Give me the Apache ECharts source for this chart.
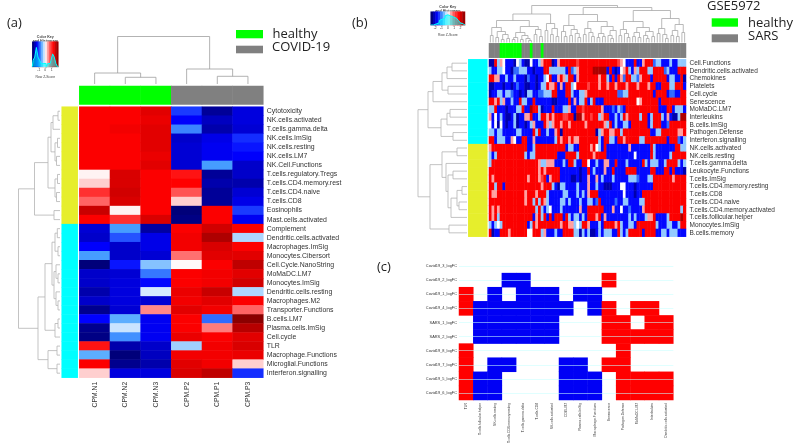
<!DOCTYPE html>
<html><head><meta charset="utf-8">
<style>html,body{margin:0;padding:0;background:#fff}#c{width:800px;height:447px;filter:blur(0.35px)}</style>
<script src="https://cdn.jsdelivr.net/npm/echarts@6/dist/echarts.min.js"></script></head>
<body><div id="c"></div>
<script>
// ---------- Panel (a) ----------
const aCols=['CPM.N1','CPM.N2','CPM.N3','CPM.P2','CPM.P1','CPM.P3'];
const aColGroups=[0,0,0,1,1,1];
const aRows=['Cytotoxicity','NK.cells.activated','T.cells.gamma.delta','NK.cells.ImSig','NK.cells.resting','NK.cells.LM7','NK.Cell.Functions','T.cells.regulatory.Tregs','T.cells.CD4.memory.rest','T.cells.CD4.naive','T.cells.CD8','Eosinophils','Mast.cells.activated','Complement','Dendritic.cells.activated','Macrophages.ImSig','Monocytes.Cibersort','Cell.Cycle.NanoString','MoMaDC.LM7','Monocytes.ImSig','Dendritic.cells.resting','Macrophages.M2','Transporter.Functions','B.cells.LM7','Plasma.cells.ImSig','Cell.cycle','TLR','Macrophage.Functions','Microglial.Functions','Interferon.signalling'];
const aRowGroups=[2,2,2,2,2,2,2,2,2,2,2,2,2,3,3,3,3,3,3,3,3,3,3,3,3,3,3,3,3,3];
const aValues=[
[1.35,1.35,1.5,-1.1,-1.85,-1.5],[1.35,1.35,1.45,-1.35,-1.65,-1.5],[1.35,1.4,1.5,-0.8,-1.75,-1.55],[1.35,1.35,1.5,-1.6,-1.45,-1.15],[1.35,1.35,1.5,-1.55,-1.4,-1.25],[1.35,1.35,1.45,-1.55,-1.4,-1.35],[1.35,1.35,1.5,-1.55,-0.7,-1.6],
[0.05,1.55,1.35,1.2,-1.85,-1.6],[0.2,1.55,1.35,1.33,-1.75,-1.75],[1.0,1.6,1.35,0.75,-1.85,-1.55],[0.65,1.55,1.35,0.2,-1.85,-1.45],[1.65,0.05,1.35,-2,1.35,-1.1],[1.35,1.0,1.55,-1.95,1.35,-1.4],
[-1.55,-0.7,-1.8,1.35,1.6,1.35],[-1.6,-1,-1.45,1.4,1.8,-0.3],[-1.35,-1.6,-1.45,1.4,1.55,1.35],[-0.7,-1.6,-1.55,0.6,1.5,1.5],[-2,-1.25,-0.45,0.02,1.35,1.7],[-1.6,-1.55,-0.85,1.35,1.4,1.5],[-1.6,-1.5,-1.3,1.35,1.4,1.6],[-1.75,-1.5,-0.15,1.45,1.65,-0.3],[-1.6,-1.5,-1.55,1.4,1.5,1.35],[-1.9,-1.55,0.5,1.5,1.4,0.65],
[-1.33,-0.6,-1.4,1.35,-0.9,2],[-1.9,-0.2,-1.4,1.35,0.55,1.75],[-1.95,-0.75,-1.4,1.45,1.35,1.5],[1.2,-1.75,-1.6,-0.35,1.4,1.55],[-0.6,-2,-1.65,1.4,1.4,1.45],[1.35,-1.9,-1.75,1.5,1.4,0.2],[0.2,-1.5,-1.5,1.55,1.7,-1.15]];
// dendrograms: [height, left, right], 0 = next leaf in display order
const aRowTree=[41.5,[25.5,[12,[9,[7,[2,0,0],0],[5,[2.5,0,0],[3.5,0,0]]],[5,[2.5,0,0],[3.5,0,0]]],[6,0,0]],[22,[15,[8,[5,[2.7,0,0],[2,0,0]],[6,[4,0,[2,0,0]],[4,0,[2,0,0]]]],[5,[2,0,0],0]],[12,[3,0,0],[3,0,0]]]];
const aColTree=[47.5,[11,0,[6.7,0,0]],[15,0,[7.7,0,0]]];
const aKeyBins=[-2,-1.75,-1.5,-1.25,-1,-0.75,-0.5,-0.25,0,0.25,0.5,0.75,1,1.25,1.5,1.75,2];
const aKeyCounts=[0,2,3,6,3,2,1,1,1,0,1,1,2,4,3,1,0];
const aKeyTicks=[-1,0,1];
// ---------- Panel (b) ----------
const bRows=['Cell.Functions','Dendritic.cells.activated','Chemokines','Platelets','Cell.cycle','Senescence','MoMaDC.LM7','Interleukins','B.cells.ImSig','Pathogen.Defense','Interferon.signalling','NK.cells.activated','NK.cells.resting','T.cells.gamma.delta','Leukocyte.Functions','T.cells.ImSig','T.cells.CD4.memory.resting','T.cells.CD8','T.cells.CD4.naive','T.cells.CD4.memory.activated','T.cells.follicular.helper','Monocytes.ImSig','B.cells.memory'];
const bRowGroups=[3,3,3,3,3,3,3,3,3,3,3,2,2,2,2,2,2,2,2,2,2,2,2];
const bHealthyCols=[4,5,6,7,8,9,10,11,15,19];
// colour level per column: 0 navy, 1 blue, 2 azure, 3 pale blue, 4 white, 5 pink, 6 salmon, 7 red, 8 dark red
const bLevels=[
'007354 111043 100411 357770 157777 776777 777777 777776 541117 115777 233111 311333',
'311334 110223 331101 117733 333317 235777 778888 817101 457315 377733 777723 111777',
'775511 311311 102110 113471 157537 715777 777757 731717 527733 257771 777771 331170',
'001110 110121 100110 133755 715177 347777 677757 757757 775777 577757 711777 337771',
'011331 332110 103311 223337 711177 311335 777777 777772 233777 777777 177771 221177',
'775735 113117 331171 111110 011117 151337 137111 777777 777777 457777 771777 777777',
'337111 011133 711877 301117 111335 117767 777775 111213 217777 777777 771117 713331',
'514131 001301 155711 377575 777667 708857 767735 771131 375777 737713 777315 100388',
'414041 011301 101351 117535 775775 777775 777777 537131 133177 777713 777112 777777',
'331331 111133 111173 711311 570777 777777 777035 775577 377777 777771 133777 777557',
'771333 115411 771151 111111 375775 755777 777731 773317 757777 733777 777771 777213',
'577777 777777 771137 777777 777713 311777 757431 711111 111511 111117 311111 117733',
'313777 777777 731337 777777 711177 773777 775777 711111 111114 111117 311111 377777',
'377777 777777 777777 533555 111317 731177 411311 551171 113111 117313 331137 777313',
'777777 777777 777777 575777 771111 111011 713111 511711 117777 111117 711177 171110',
'757777 777777 775777 567157 771111 001011 511513 111311 111333 211133 777777 757777',
'773771 777777 777777 757773 103311 113111 511311 000111 441110 111111 777777 777777',
'755777 777777 757775 777311 111331 113131 577711 111111 141110 117777 777777 777777',
'777777 777777 757737 375311 113313 111311 331271 111121 133111 133777 777777 777777',
'757577 777777 777773 731341 113111 111511 777777 111511 411211 115777 777777 777737',
'757377 777777 777715 737171 777173 133131 777571 511111 111313 111355 711113 777787',
'313437 777777 771375 777777 775775 534377 511131 777757 311331 777777 731113 311377',
'701177 757777 774477 735111 311777 733031 300131 333117 313777 771777 711331 333111'];
const levelZ=[-1.75,-1.3,-0.9,-0.4,0,0.4,0.9,1.35,1.8];
const bRowTree=[49,[39,[34,[25,[20,[15,0,0],0],[19,0,0]],0],[26,[20,[17,0,0],0],[14,0,0]]],[37,[25,[10,0,0],[21,0,[19,[14,0,0],[16,[10,[5,0,0],[8,0,0]],0]]]],[18,0,0]]];
const bColTree=[37,[28.5,[22,[15,[7,0,0],[11,[5,0,0],[8,[3,0,0],[4,0,0]]]],[16,[10,[5,[3,0,0],0],[7,[3,0,0],[4,0,[2,0,0]]]],[13,[8,0,0],[6,0,0]]]],[19,[12,0,0],[14,[8,0,0],[6,0,0]]]],[35,[28,[17,[11,0,[6,0,0]],[13,[7,0,0],[9,0,[5,0,0]]]],[21,[14,[8,0,0],[10,0,[6,0,0]]],[16,[9,[5,0,0],[6,0,0]],[12,[7,0,[4,0,0]],0]]]],[32,[21,[13,[7,0,0],[9,0,[5,0,0]]],[15,[10,[6,0,0],[5,0,0]],[11,[7,0,[4,0,0]],[6,0,0]]]],[24,[14,[9,0,0],[8,0,[4,0,0]]],[18,[12,[7,0,0],[6,0,0]],[10,0,0]]]]]];
const bKeyBins=[-2.7,-2.4,-2.1,-1.8,-1.5,-1.2,-0.9,-0.6,-0.3,0,0.3,0.6,0.9,1.2,1.5,1.8,2.1,2.4,2.7];
const bKeyCounts=[0,0,1,1,2,4,5,6,8,9,8,7,7,6,5,4,2,1,0];
const bKeyTicks=[-2,-1,0,1,2];
// ---------- Panel (c) ----------
const cRows=['Covid19_3_logFC','Covid19_2_logFC','Covid19_1_logFC','Covid19_4_logFC','SARS_1_logFC','SARS_2_logFC','Covid19_8_logFC','Covid19_7_logFC','Covid19_5_logFC','Covid19_6_logFC'];
const cCols=['TLR','T.cells.follicular.helper','NK.cells.resting','T.cells.CD4.memory.resting','T.cells.gamma.delta','T.cells.CD8','NK.cells.activated','CD8.LM7','Plasma.cells.ImSig','Macrophage.Functions','Senescence','Pathogen.Defense','MoMaDC.LM7','Interleukins','Dendritic.cells.activated'];
const cValues=[
[0,0,0,0,0,0,0,0,0,0,0,0,0,0,0],
[0,0,0,-1,-1,0,0,0,0,0,1,0,0,0,0],
[1,0,-1,0,-1,-1,-1,0,-1,-1,0,0,0,0,0],
[1,-1,-1,-1,-1,-1,-1,-1,0,-1,1,0,1,1,0],
[0,-1,-1,-1,-1,-1,-1,0,0,0,1,1,0,1,1],
[0,-1,-1,-1,-1,-1,-1,0,0,0,1,1,1,1,1],
[1,0,0,0,0,0,0,0,0,0,0,1,0,0,0],
[1,0,-1,-1,0,0,0,-1,-1,0,1,1,0,0,0],
[1,-1,-1,0,0,0,0,-1,-1,-1,0,1,1,1,1],
[1,-1,-1,0,0,0,0,-1,-1,-1,0,1,1,1,1]];
// ---------- Colours ----------
const zColours=['#00007a','#0000ff','#4aa5ff','#ffffff','#ff6060','#ff0000','#8b0000'];
const keyStrip=[-2,-1.7,-1.4,-1.1,-0.8,-0.5,-0.2,0.1,0.4,0.7,1,1.3,1.6,1.9];

const grids=[],xAxes=[],yAxes=[],series=[],graphic=[];
const hidden=(min,max,inv)=>({type:'value',show:false,min,max,inverse:!!inv});
function addGrid(r,x,y){const g=grids.length;grids.push({left:r[0],top:r[1],width:r[2],height:r[3],containLabel:false});xAxes.push({...x,gridIndex:g});yAxes.push({...y,gridIndex:g});return g;}
function cat(data,extra){return {type:'category',data,axisLine:{show:false},axisTick:{show:false},splitLine:{show:false},...extra};}
function cells(mat){const o=[];mat.forEach((row,y)=>row.forEach((v,x)=>{if(v!==null)o.push([x,y,v]);}));return o;}
const zSeries=[],annSeries=[];
function heat(g,data,list){list.push(series.length);series.push({type:'heatmap',xAxisIndex:g,yAxisIndex:g,data,progressive:0,silent:true,itemStyle:{borderWidth:0}});return series[series.length-1];}
function tree(root,horizontal,g,colour){
  const segs=[];let next=0;
  (function walk(n){ if(!Array.isArray(n))return {p:next++,h:0};
    const a=walk(n[1]),b=walk(n[2]);
    segs.push([a.p,a.h,a.p,n[0]],[a.p,n[0],b.p,n[0]],[b.p,b.h,b.p,n[0]]);
    return {p:(a.p+b.p)/2,h:n[0]};
  })(root);
  series.push({type:'custom',xAxisIndex:g,yAxisIndex:g,silent:true,clip:false,
    encode:horizontal?{x:[1,3],y:[0,2]}:{x:[0,2],y:[1,3]},
    data:segs,
    renderItem(p,api){
      const A=horizontal?[api.value(1),api.value(0)]:[api.value(0),api.value(1)];
      const B=horizontal?[api.value(3),api.value(2)]:[api.value(2),api.value(3)];
      const s=api.coord(A),e=api.coord(B);
      return {type:'line',shape:{x1:s[0],y1:s[1],x2:e[0],y2:e[1]},style:{stroke:colour,lineWidth:0.8,fill:null}};
    }});
}
function txt(text,x,y,font,opts){graphic.push({type:'text',silent:true,style:{text,x,y,font,fill:'#222',textVerticalAlign:'middle',textAlign:'left',...opts}});}
function box(x,y,w,h,fill){graphic.push({type:'rect',silent:true,shape:{x,y,width:w,height:h},style:{fill}});}
function key(r,bins,counts,ticks,ext){
  const g0=addGrid(r,cat(keyStrip.map(String),{show:false}),cat(['k'],{show:false}));
  heat(g0,keyStrip.map((v,i)=>[i,0,v]),zSeries);
  const max=Math.max(...counts)*1.3;
  const ax={type:'value',min:-ext,max:ext,axisLine:{lineStyle:{color:'#666',width:0.4}},axisTick:{length:1.5,lineStyle:{color:'#666',width:0.4},customValues:ticks},splitLine:{show:false},axisLabel:{customValues:ticks,fontSize:3.4,margin:2,color:'#444',fontFamily:'Liberation Sans'}};
  const ay={type:'value',min:0,max,position:'left',axisLine:{lineStyle:{color:'#666',width:0.4}},axisTick:{show:false},splitLine:{show:false},axisLabel:{show:false}};
  const g1=addGrid(r,ax,ay);
  series.push({type:'line',step:'middle',xAxisIndex:g1,yAxisIndex:g1,symbol:'none',silent:true,data:bins.map((b,i)=>[b,counts[i]]),lineStyle:{color:'#00ffff',width:1},areaStyle:{color:'#00ffff',opacity:0.55}});
  const cx=r[0]+r[2]/2;
  txt('Color Key',cx,r[1]-5,'bold 3.6px "Liberation Sans"',{textAlign:'center',fill:'#444'});
  txt('and Histogram',cx,r[1]-1,'bold 3.6px "Liberation Sans"',{textAlign:'center',fill:'#444'});
  txt('Row Z-Score',cx,r[1]+r[3]+10.5,'3.4px "Liberation Sans"',{textAlign:'center',fill:'#444'});
}
const lab=(size,extra)=>({interval:0,fontSize:size,color:'#333',fontFamily:'Liberation Sans',...extra});

// ---- panel a layout
const ax0=79.3,ay0=106.7,aw=184,ah=271;
let g=addGrid([ax0,ay0,aw,ah],cat(aCols,{position:'bottom',axisLabel:lab(6.8,{rotate:90,margin:4})}),cat(aRows,{inverse:true,position:'right',axisLabel:lab(6.9,{margin:3.5})}));
heat(g,cells(aValues),zSeries);
g=addGrid([ax0,86,aw,18.5],cat(aCols,{show:false}),cat(['group'],{show:false}));
heat(g,aColGroups.map((v,i)=>[i,0,v]),annSeries);
g=addGrid([61.7,ay0,16,ah],cat(['side'],{show:false}),cat(aRows,{show:false,inverse:true}));
heat(g,aRowGroups.map((v,i)=>[0,i,v]),annSeries);
g=addGrid([ax0,36.5,aw,47.5],hidden(-0.5,5.5),hidden(0,47.5));tree(aColTree,false,g,'#a0a0a0');
g=addGrid([18,ay0,42,ah],hidden(0,42,true),hidden(-0.5,29.5,true));tree(aRowTree,true,g,'#b4b4b4');
key([32.3,41.7,26,25],aKeyBins,aKeyCounts,aKeyTicks,2);
// ---- panel b layout
const bx0=489,by0=59.3,bw=197,bh=177.4;
const bMat=bLevels.map(s=>s.replace(/ /g,'').split('').map(c=>levelZ[+c]));
const bCols=bMat[0].map((_,i)=>'S'+(i+1));
g=addGrid([bx0,by0,bw,bh],cat(bCols,{show:false}),cat(bRows,{inverse:true,position:'right',axisLabel:lab(6.5,{margin:3.5})}));
heat(g,cells(bMat),zSeries);
g=addGrid([bx0,43.3,bw,14.4],cat(bCols,{show:false}),cat(['group'],{show:false}));
heat(g,bCols.map((_,i)=>[i,0,bHealthyCols.includes(i)?0:1]),annSeries);
g=addGrid([468.3,by0,19,bh],cat(['side'],{show:false}),cat(bRows,{show:false,inverse:true}));
heat(g,bRowGroups.map((v,i)=>[0,i,v]),annSeries);
g=addGrid([bx0,5,bw,37.5],hidden(-0.5,bCols.length-0.5),hidden(0,37.5));tree(bColTree,false,g,'#a8a8a8');
g=addGrid([418,by0,49,bh],hidden(0,49,true),hidden(-0.5,22.5,true));tree(bRowTree,true,g,'#b4b4b4');
key([430.7,11.7,34.3,13.3],bKeyBins,bKeyCounts,bKeyTicks,2.7);
// ---- panel c layout
g=addGrid([459,259,214.3,141],cat(cCols,{position:'bottom',axisLabel:lab(3.3,{rotate:90,margin:3})}),cat(cRows,{inverse:true,position:'left',axisLabel:lab(3.9,{margin:2})}));
const cIdx=[];const cS=heat(g,cells(cValues.map(r=>r.map(v=>v===0?null:v))),cIdx);
cS.markLine={silent:true,symbol:'none',animation:false,label:{show:false},lineStyle:{color:'#c8ffff',width:0.8,type:'solid',opacity:0.7},data:cRows.map(n=>({yAxis:n}))};

// ---- legends and panel tags
const tagFont='13px "Open Sans"';
txt('(a)',7,23,tagFont);txt('(b)',352,23,tagFont);txt('(c)',377,267,tagFont);
box(236,30,27,8.3,'#00ff00');box(236,45.7,27,7.6,'#808080');
txt('healthy',272.5,34,tagFont);txt('COVID-19',272,47.7,tagFont);
txt('GSE5972',707,6.5,tagFont);
box(711.7,18.3,26.3,8.4,'#00ff00');box(711.7,34.3,26.3,8,'#808080');
txt('healthy',748,23,tagFont);txt('SARS',748,36,tagFont);

const chart=echarts.init(document.getElementById('c'),null,{renderer:'canvas'});
chart.setOption({animation:false,backgroundColor:'#fff',grid:grids,xAxis:xAxes,yAxis:yAxes,series,graphic,
 visualMap:[
  {type:'continuous',show:false,min:-2,max:2,dimension:2,seriesIndex:zSeries,inRange:{color:zColours}},
  {type:'piecewise',show:false,dimension:2,seriesIndex:annSeries,pieces:[{value:0,color:'#00ff00'},{value:1,color:'#808080'},{value:2,color:'#e6ee2c'},{value:3,color:'#00ffff'}]},
  {type:'piecewise',show:false,dimension:2,seriesIndex:cIdx,pieces:[{value:1,color:'#ff0000'},{value:-1,color:'#0000f5'}]}
 ]});
</script></body></html>
